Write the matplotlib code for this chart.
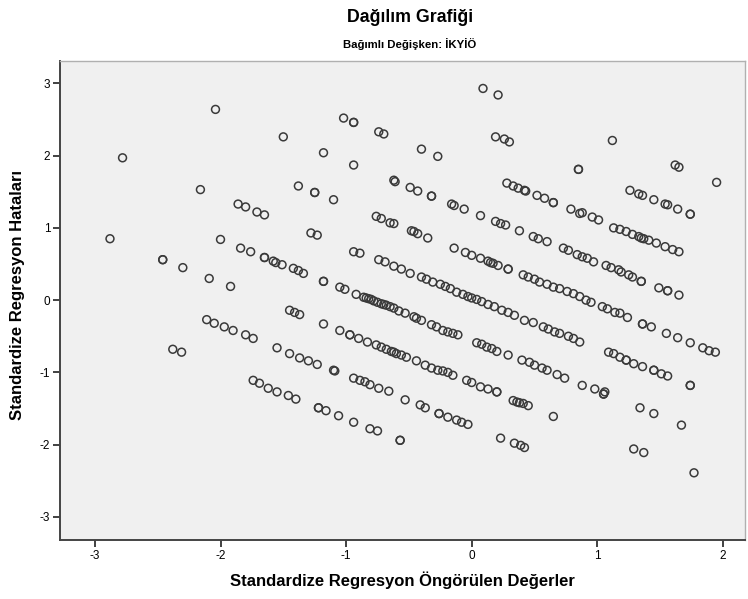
import matplotlib
matplotlib.use("Agg")
import matplotlib.pyplot as plt

plt.rcParams['font.family'] = ['Liberation Sans', 'DejaVu Sans']

title = "Dağılım Grafiği"
subtitle = "Bağımlı Değişken: İKYİÖ"
xlabel = "Standardize Regresyon Öngörülen Değerler"
ylabel = "Standardize Regresyon Hataları"

# predicted (x) and residual (y) values
pred = [
    -2.04, -2.78, -2.16, -1.86, -1.80, -1.71, -1.65,
    -1.50, -1.02, -0.94, -0.94, -0.74, -0.70, -1.18, -0.94, -1.38, -1.25, -1.25, -1.10,
    -0.62, -0.61, -0.49, -0.76, -0.72, -0.65, -0.62,
    0.09, 0.21, 0.19, 0.26, 0.30, -0.40, -0.27, 0.85, 0.85, -0.43, -0.32, -0.32,
    -0.16, -0.14, -0.06, 0.07, 0.19, 0.23, 0.27, 0.28, 0.33, 0.37, 0.42, 0.43,
    0.52, 0.58, 0.65, 0.65, 0.79, 0.86,
    1.12, 1.62, 1.65, 1.95, 1.26, 1.33, 1.36, 1.45, 1.54, 1.56, 1.64, 1.74, 1.74,
    0.88, 0.96, 1.01,
    -2.88, -2.46, -2.46, -2.30, -2.00, -2.09, -1.92, -2.11, -2.05, -1.97, -1.90, -2.38, -2.31,
    -1.28, -1.23, -1.84, -1.76, -1.65, -1.65, -1.58, -1.56, -1.51, -1.42, -1.38, -1.34,
    -1.18, -1.18, -1.05, -1.01, -0.92,
    -0.86, -0.84, -0.82, -0.80, -0.78, -0.75, -0.72, -0.70, -0.68, -0.65, -0.62, -0.58, -0.53, -0.46,
    -0.94, -0.89, -0.74, -0.69, -0.62, -0.56, -0.49, -0.48,
    -1.45, -1.41, -1.37, -1.18, -1.05, -0.97, -0.97, -0.90, -0.83, -0.76, -0.72, -0.68, -0.64,
    -0.62, -0.60, -0.56, -0.52,
    -1.80, -1.74, -1.55, -1.45, -1.37, -1.30, -1.23, -1.10, -1.09, -0.94, -0.89, -0.85, -0.81,
    -0.74, -0.66,
    -1.74, -1.69, -1.62, -1.55, -1.46, -1.40,
    -0.46, -0.43, -0.35, 0.38, 0.49, 0.53, 0.60, 0.73, 0.77, 0.84, 0.88,
    -0.14, -0.05, 0.00, 0.07, 0.13, 0.15, 0.17, 0.21, 0.29, 0.29,
    0.41, 0.45, 0.50, 0.54, 0.60, 0.65, 0.70, 0.76, 0.81, 0.86,
    -0.40, -0.36, -0.31, -0.25, -0.21, -0.17, -0.12, -0.07, -0.03, 0.00, 0.04, 0.08, 0.13,
    0.18, 0.24, 0.29, 0.34, 0.42, 0.49,
    -0.44, -0.40, -0.32, -0.28, -0.23, -0.19, -0.15, -0.11, 0.04, 0.08, 0.12, 0.16, 0.20,
    0.29, 0.40, 0.46, 0.50, 0.56, 0.60, 0.68, 0.74,
    0.57, 0.61, 0.66, 0.70, 0.77, 0.81, 0.86,
    -0.44, -0.37, -0.32, -0.27, -0.23, -0.19, -0.15,
    -0.04, 0.00, 0.07, 0.13, 0.20, 0.20, 0.88,
    1.13, 1.18, 1.23, 1.28, 1.33, 1.35, 1.37, 1.41, 1.47, 1.54, 1.60, 1.65,
    0.92, 0.97, 1.07, 1.11, 1.17, 1.19, 1.25, 1.28, 1.35, 1.35, 1.49, 1.56, 1.56, 1.65,
    0.91, 0.95, 1.04, 1.08, 1.14, 1.18, 1.24, 1.36, 1.36, 1.43, 1.55, 1.64, 1.74, 1.84,
    1.89, 1.94,
    1.09, 1.13, 1.18, 1.23, 1.23, 1.29, 1.36, 1.45, 1.45, 1.51, 1.56, 1.74, 1.74, 0.98, 1.06,
    -1.22, -1.22, -1.16, -1.06, -0.94, -0.81, -0.75, -0.57, -0.57, -0.53,
    -0.41, -0.37, -0.26, -0.26, -0.19, -0.12, -0.08, -0.03, 0.33, 0.36, 0.38, 0.41, 0.45,
    0.65, 0.23, 0.34, 0.39, 0.42,
    1.05, 1.05, 1.34, 1.45, 1.67, 1.29, 1.37, 1.77,
]
resid = [
    2.64, 1.97, 1.53, 1.33, 1.29, 1.22, 1.18,
    2.26, 2.52, 2.46, 2.46, 2.33, 2.30, 2.04, 1.87, 1.58, 1.49, 1.49, 1.39,
    1.66, 1.64, 1.56, 1.16, 1.13, 1.07, 1.06,
    2.93, 2.84, 2.26, 2.23, 2.19, 2.09, 1.99, 1.81, 1.81, 1.51, 1.44, 1.44,
    1.33, 1.31, 1.26, 1.17, 1.09, 1.06, 1.04, 1.62, 1.58, 1.55, 1.52, 1.51,
    1.45, 1.41, 1.35, 1.35, 1.26, 1.20,
    2.21, 1.87, 1.84, 1.63, 1.52, 1.47, 1.45, 1.39, 1.33, 1.32, 1.26, 1.19, 1.19,
    1.21, 1.15, 1.11,
    0.85, 0.56, 0.56, 0.45, 0.84, 0.30, 0.19, -0.27, -0.32, -0.37, -0.42, -0.68, -0.72,
    0.93, 0.90, 0.72, 0.67, 0.59, 0.59, 0.54, 0.52, 0.49, 0.44, 0.41, 0.37,
    0.26, 0.26, 0.18, 0.15, 0.08,
    0.04, 0.03, 0.02, 0.01, -0.01, -0.03, -0.05, -0.06, -0.07, -0.09, -0.11, -0.15, -0.18, -0.23,
    0.67, 0.65, 0.56, 0.53, 0.47, 0.43, 0.37, 0.96,
    -0.14, -0.17, -0.20, -0.33, -0.42, -0.48, -0.48, -0.53, -0.58, -0.62, -0.65, -0.68, -0.71,
    -0.72, -0.74, -0.76, -0.79,
    -0.48, -0.53, -0.66, -0.74, -0.80, -0.84, -0.89, -0.97, -0.98, -1.08, -1.11, -1.13, -1.17,
    -1.22, -1.26,
    -1.11, -1.15, -1.22, -1.27, -1.32, -1.37,
    0.95, 0.92, 0.86, 0.96, 0.88, 0.85, 0.81, 0.72, 0.69, 0.63, 0.60,
    0.72, 0.66, 0.62, 0.58, 0.54, 0.52, 0.51, 0.48, 0.43, 0.43,
    0.35, 0.32, 0.29, 0.25, 0.22, 0.18, 0.16, 0.12, 0.09, 0.05,
    0.32, 0.29, 0.25, 0.22, 0.19, 0.16, 0.11, 0.08, 0.05, 0.03, 0.01, -0.02, -0.06,
    -0.09, -0.14, -0.17, -0.21, -0.28, -0.31,
    -0.25, -0.28, -0.34, -0.37, -0.42, -0.44, -0.46, -0.48, -0.59, -0.61, -0.65, -0.67, -0.71,
    -0.76, -0.83, -0.86, -0.90, -0.94, -0.97, -1.03, -1.08,
    -0.37, -0.40, -0.44, -0.46, -0.50, -0.53, -0.58,
    -0.84, -0.90, -0.94, -0.97, -0.98, -1.00, -1.04,
    -1.11, -1.14, -1.20, -1.23, -1.27, -1.27, -1.18,
    1.00, 0.98, 0.95, 0.91, 0.88, 0.86, 0.85, 0.83, 0.79, 0.74, 0.70, 0.67,
    0.58, 0.53, 0.48, 0.45, 0.42, 0.39, 0.35, 0.32, 0.26, 0.26, 0.17, 0.13, 0.13, 0.07,
    0.00, -0.03, -0.09, -0.12, -0.17, -0.18, -0.24, -0.33, -0.33, -0.37, -0.46, -0.52, -0.59, -0.66,
    -0.70, -0.72,
    -0.72, -0.74, -0.79, -0.83, -0.83, -0.88, -0.92, -0.97, -0.97, -1.02, -1.05, -1.18, -1.18, -1.23, -1.27,
    -1.49, -1.49, -1.53, -1.60, -1.69, -1.78, -1.81, -1.94, -1.94, -1.38,
    -1.45, -1.49, -1.57, -1.57, -1.62, -1.66, -1.69, -1.72, -1.39, -1.41, -1.42, -1.43, -1.46,
    -1.61, -1.91, -1.98, -2.01, -2.04,
    -1.30, -1.30, -1.49, -1.57, -1.73, -2.06, -2.11, -2.39,
]

xticks = [-3, -2, -1, 0, 1, 2]
yticks = [-3, -2, -1, 0, 1, 2, 3]

fig = plt.figure(figsize=(7.48, 5.99), dpi=100)
ax = fig.add_axes([60/748, 59/599, 685/748, 479/599])
ax.set_facecolor('#f0f0f0')

ax.scatter(pred, resid, s=32, facecolors='none', edgecolors='#3a3a3a', linewidths=1.1)

ax.set_xlim(-3.278, 2.176)
ax.set_ylim(-3.32, 3.31)
ax.set_xticks(xticks)
ax.set_yticks(yticks)
ax.set_xticklabels([str(t) for t in xticks])
ax.set_yticklabels([str(t) for t in yticks])
ax.tick_params(direction='out', length=5, width=1.3, color='#333333', labelsize=8.5, pad=2)

for side in ['left', 'bottom']:
    ax.spines[side].set_color('#444444')
    ax.spines[side].set_linewidth(1.4)
for side in ['top', 'right']:
    ax.spines[side].set_color('#b0b0b0')
    ax.spines[side].set_linewidth(1.0)

cx = (60 + 745) / 2 / 748
fig.text(cx + 0.01, 0.970, title, ha='center', va='center', fontsize=12.8, fontweight='bold')
fig.text(cx + 0.01, 0.9265, subtitle, ha='center', va='center', fontsize=8.2, fontweight='bold')
fig.text(cx, 0.032, xlabel, ha='center', va='center', fontsize=12, fontweight='bold')
fig.text(0.024, (599 - 295) / 599, ylabel, ha='center', va='center', rotation=90,
         fontsize=12, fontweight='bold')

fig.savefig('out.png', dpi=100, facecolor='white')
